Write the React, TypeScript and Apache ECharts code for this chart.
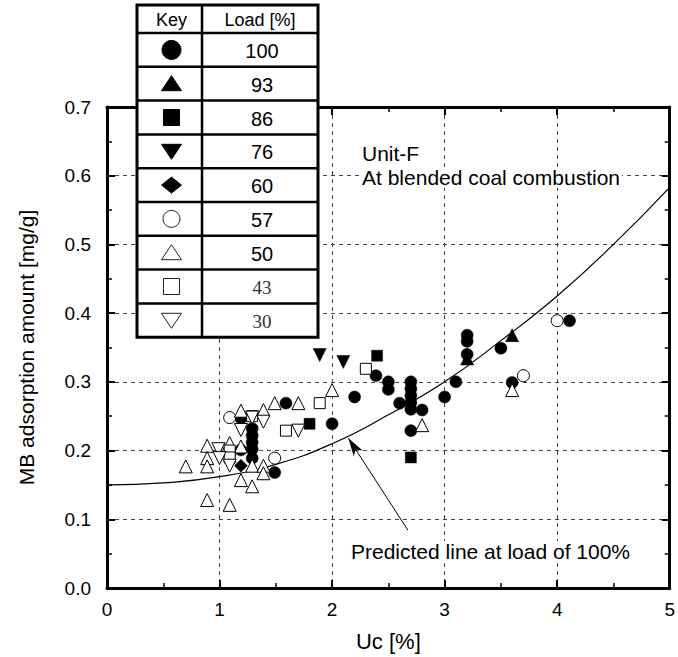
import React, { useEffect, useRef } from "react";
import * as echarts from "echarts";

// ---- data ----
const loadKeys = ["100", "93", "86", "76", "60", "57", "50", "43", "30"];
const curveX = [0, 0.5, 1, 1.5, 2, 2.5, 3, 3.5, 4, 4.5, 5];
const curveY = [0.15, 0.153, 0.162, 0.18, 0.21, 0.252, 0.3, 0.36, 0.425, 0.5, 0.583];

const p100 = [
  [1.19, 0.247], [1.59, 0.269], [1.29, 0.232], [1.29, 0.222], [1.29, 0.212], [1.29, 0.202],
  [1.19, 0.201], [1.29, 0.189], [1.49, 0.168], [2.0, 0.239], [2.2, 0.278], [2.39, 0.309],
  [2.5, 0.3], [2.5, 0.289], [2.6, 0.269], [2.7, 0.3], [2.7, 0.29], [2.7, 0.28], [2.7, 0.27],
  [2.7, 0.26], [2.7, 0.229], [2.8, 0.259], [3.0, 0.278], [3.1, 0.3], [3.2, 0.368],
  [3.2, 0.359], [3.2, 0.34], [3.5, 0.349], [3.6, 0.299], [4.11, 0.389],
];
const p93 = [[3.6, 0.368], [3.2, 0.334]];
const p86 = [[1.8, 0.239], [2.4, 0.338], [2.7, 0.19]];
const p76 = [[1.89, 0.339], [2.1, 0.329]];
const p60 = [[1.19, 0.178]];
const p57 = [[1.09, 0.248], [1.49, 0.189], [3.7, 0.309], [4.0, 0.389]];
const p50 = [
  [1.19, 0.258], [1.39, 0.259], [1.49, 0.269], [1.7, 0.269], [2.0, 0.288], [2.8, 0.237],
  [3.6, 0.288], [0.89, 0.207], [1.09, 0.211], [0.89, 0.189], [0.89, 0.177], [0.7, 0.177],
  [1.29, 0.178], [1.39, 0.178], [1.39, 0.167], [1.19, 0.157], [1.29, 0.148], [0.89, 0.128],
  [1.09, 0.121], [1.19, 0.206],
];
const p43 = [[1.89, 0.269], [2.3, 0.319], [1.59, 0.229], [1.09, 0.2], [1.09, 0.19], [1.29, 0.25]];
const p30 = [[1.29, 0.248], [1.39, 0.242], [1.19, 0.23], [1.7, 0.229], [0.99, 0.202], [1.0, 0.189], [1.09, 0.178]];

const arrowTail = [2.674, 0.084];
const arrowTip = [2.145, 0.218];

const FONT = "'Liberation Sans', Arial, sans-serif";

type Kind = "circle" | "up" | "square" | "down" | "diamond";
const seriesDefs: { name: string; data: number[][]; kind: Kind; filled: boolean }[] = [
  { name: "100", data: p100, kind: "circle", filled: true },
  { name: "93", data: p93, kind: "up", filled: true },
  { name: "86", data: p86, kind: "square", filled: true },
  { name: "76", data: p76, kind: "down", filled: true },
  { name: "60", data: p60, kind: "diamond", filled: true },
  { name: "57", data: p57, kind: "circle", filled: false },
  { name: "50", data: p50, kind: "up", filled: false },
  { name: "43", data: p43, kind: "square", filled: false },
  { name: "30", data: p30, kind: "down", filled: false },
];

function symbolOf(kind: Kind) {
  switch (kind) {
    case "circle": return { symbol: "circle", size: 12, rotate: 0 };
    case "up": return { symbol: "triangle", size: 13, rotate: 0 };
    case "down": return { symbol: "triangle", size: 13, rotate: 180 };
    case "square": return { symbol: "rect", size: 11, rotate: 0 };
    default: return { symbol: "diamond", size: 13, rotate: 0 };
  }
}

function keyShape(kind: Kind, filled: boolean, cx: number, cy: number) {
  const style = filled
    ? { fill: "#000", stroke: "#000", lineWidth: 1 }
    : { fill: "#fff", stroke: "#222", lineWidth: 1 };
  const z = 110;
  switch (kind) {
    case "circle":
      return { type: "circle", z, shape: { cx, cy, r: filled ? 9.5 : 8.5 }, style };
    case "up":
      return { type: "polygon", z, shape: { points: [[cx, cy - 8], [cx + 10, cy + 7], [cx - 10, cy + 7]] }, style };
    case "down":
      return { type: "polygon", z, shape: { points: [[cx - 10, cy - 7], [cx + 10, cy - 7], [cx, cy + 8]] }, style };
    case "square":
      return { type: "rect", z, shape: { x: cx - 8, y: cy - 8, width: 16, height: 16 }, style };
    default:
      return { type: "polygon", z, shape: { points: [[cx, cy - 8], [cx + 10, cy], [cx, cy + 8], [cx - 10, cy]] }, style };
  }
}

function buildTable() {
  const L = 137, R = 318, M = 202, T = 5, H0 = 33, RH = 33.8;
  const B = H0 + RH * loadKeys.length;
  const els: any[] = [];
  els.push({ type: "rect", z: 100, shape: { x: L, y: T, width: R - L, height: B - T }, style: { fill: "#fff", stroke: "#000", lineWidth: 3 } });
  els.push({ type: "line", z: 105, shape: { x1: M, y1: T, x2: M, y2: B }, style: { stroke: "#000", lineWidth: 2.5 } });
  for (let i = 0; i < loadKeys.length; i++) {
    const y = H0 + RH * i;
    els.push({ type: "line", z: 105, shape: { x1: L, y1: y, x2: R, y2: y }, style: { stroke: "#000", lineWidth: 2.5 } });
  }
  els.push({ type: "text", z: 110, x: (L + M) / 2 + 2, y: (T + H0) / 2 + 1, style: { text: "Key", font: `18px ${FONT}`, fill: "#000", align: "center", verticalAlign: "middle" } });
  els.push({ type: "text", z: 110, x: (M + R) / 2, y: (T + H0) / 2 + 1, style: { text: "Load [%]", font: `18px ${FONT}`, fill: "#000", align: "center", verticalAlign: "middle" } });
  seriesDefs.forEach((s, i) => {
    const cy = H0 + RH * i + RH / 2;
    els.push(keyShape(s.kind, s.filled, (L + M) / 2 + 2, cy));
    const serif = s.name === "43" || s.name === "30";
    els.push({
      type: "text", z: 110, x: (M + R) / 2 + 2, y: cy + 1,
      style: {
        text: s.name,
        font: serif ? `19px 'Liberation Serif', 'DejaVu Serif', serif` : `20px ${FONT}`,
        fill: serif ? "#333" : "#000", align: "center", verticalAlign: "middle",
      },
    });
  });
  return els;
}

export default function App() {
  const ref = useRef<HTMLDivElement>(null);
  useEffect(() => {
    if (!ref.current) return;
    const chart = echarts.init(ref.current, null, { renderer: "svg" });
    const axisCommon = {
      type: "value" as const,
      axisLine: { show: true, onZero: false, lineStyle: { color: "#000", width: 3 } },
      axisTick: { show: true, inside: true, length: 8, lineStyle: { color: "#000", width: 2 } },
      minorTick: { show: true, splitNumber: 2, length: 5, lineStyle: { color: "#000", width: 1.5 } },
      splitLine: { show: false },
    };
    const scatterSeries = seriesDefs.map((s) => {
      const sym = symbolOf(s.kind);
      return {
        type: "scatter",
        name: s.name,
        data: s.data,
        symbol: sym.symbol,
        symbolSize: sym.size,
        symbolRotate: sym.rotate,
        z: s.filled ? 3 : 4,
        itemStyle: s.filled
          ? { color: "#000", borderColor: "#000", borderWidth: 0.5, opacity: 1 }
          : { color: "#fff", borderColor: "#000", borderWidth: 1, opacity: 1 },
        emphasis: { disabled: true },
      };
    });
    chart.setOption({
      animation: false,
      backgroundColor: "#fff",
      grid: { left: 107, top: 107, width: 566, height: 481, containLabel: false },
      xAxis: [
        {
          ...axisCommon, position: "bottom", min: 0, max: 5, interval: 1,
          axisLabel: { color: "#000", fontSize: 19, fontFamily: FONT, margin: 12 },
          splitLine: { show: true, lineStyle: { color: "#444", type: [4, 4], width: 1 } },
          name: "Uc [%]", nameLocation: "middle", nameGap: 42,
          nameTextStyle: { color: "#000", fontSize: 22, fontFamily: FONT },
        },
        { ...axisCommon, position: "top", min: 0, max: 5, interval: 1, axisLabel: { show: false } },
      ],
      yAxis: [
        {
          ...axisCommon, position: "left", min: 0, max: 0.7, interval: 0.1,
          axisLabel: { color: "#000", fontSize: 19, fontFamily: FONT, margin: 16, formatter: (v: number) => v.toFixed(1) },
          splitLine: { show: true, lineStyle: { color: "#444", type: [4, 4], width: 1 } },
          name: "MB adsorption amount [mg/g]", nameLocation: "middle", nameGap: 70,
          nameTextStyle: { color: "#000", fontSize: 21, fontFamily: FONT },
        },
        { ...axisCommon, position: "right", min: 0, max: 0.7, interval: 0.1, axisLabel: { show: false } },
      ],
      series: [
        {
          type: "line",
          data: curveX.map((x, i) => [x, curveY[i]]),
          smooth: true,
          showSymbol: false,
          symbol: "none",
          z: 2,
          lineStyle: { color: "#000", width: 1.2 },
          emphasis: { disabled: true },
          markLine: {
            silent: true,
            symbol: ["none", "arrow"],
            symbolSize: [8, 18],
            label: { show: false },
            lineStyle: { color: "#000", width: 1, type: "solid" },
            data: [[{ coord: arrowTail }, { coord: arrowTip }]],
          },
        },
        ...scatterSeries,
      ],
      graphic: [
        { type: "text", z: 50, left: 362, top: 143, style: { text: "Unit-F", font: `21px ${FONT}`, fill: "#000" } },
        { type: "text", z: 50, left: 360, top: 167, style: { text: "At blended coal combustion", font: `21px ${FONT}`, fill: "#000", backgroundColor: "#fff", padding: [0, 2] } },
        { type: "text", z: 50, left: 349, top: 541, style: { text: "Predicted line at load of 100%", font: `21px ${FONT}`, fill: "#000", backgroundColor: "#fff", padding: [0, 2] } },
        ...buildTable(),
      ],
    });
    return () => chart.dispose();
  }, []);
  return <div ref={ref} style={{ position: "absolute", left: 0, top: 0, width: 678, height: 657, background: "#fff" }} />;
}
